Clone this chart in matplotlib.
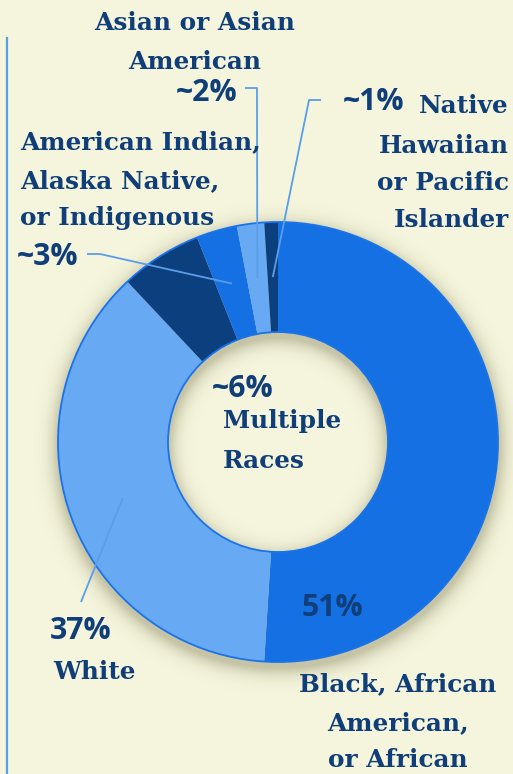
import numpy as np
import matplotlib
matplotlib.use('Agg')
import matplotlib.pyplot as plt
from matplotlib.patches import Circle

# data
groups = ['Black, African American, or African', 'White', 'Multiple Races',
          'American Indian, Alaska Native, or Indigenous',
          'Asian or Asian American', 'Native Hawaiian or Pacific Islander']
shares = [51, 37, 6, 3, 2, 1]
pct_labels = ['51%', '37%', '~6%', '~3%', '~2%', '~1%']
slice_colors = ['#1570e3', '#67aaf3', '#0c3f7e', '#1570e3', '#67aaf3', '#0c3f7e']

BG = '#f5f5dd'
NAVY = '#0f3e78'
LINE = '#5a9ee9'
SERIF = 'DejaVu Serif'
SANS = 'Open Sans'

W, H = 513, 774
CX, CY = 278, 442        # donut centre (pixels from top)
R, RING = 220, 110


def Y(y):
    return H - y


fig = plt.figure(figsize=(W / 100, H / 100), dpi=100, facecolor=BG)
ax = fig.add_axes([0, 0, 1, 1])
ax.set_facecolor(BG)

# soft drop shadow under the ring
yy, xx = np.mgrid[0:H, 0:W]
d = np.hypot(xx - CX, yy - (CY + 5))
out = np.maximum(np.maximum(d - R, (R - RING) - d), 0)
alpha = 0.30 * np.exp(-(out / 9.0) ** 1.3)
shadow = np.zeros((H, W, 4))
shadow[..., 0] = 0.33
shadow[..., 1] = 0.32
shadow[..., 2] = 0.15
shadow[..., 3] = alpha
ax.imshow(shadow, extent=(0, W, 0, H), origin='upper', zorder=1, interpolation='bilinear')

wedges, _ = ax.pie(shares, colors=slice_colors, startangle=90, counterclock=False,
                   radius=R, center=(CX, Y(CY)),
                   wedgeprops=dict(width=RING, linewidth=0))
for w in wedges:
    w.set_zorder(2)
ax.add_patch(Circle((CX, Y(CY)), R, fill=False, ec='#1a73e8', lw=1.3, zorder=3))
ax.add_patch(Circle((CX, Y(CY)), R - RING, fill=False, ec='#1a73e8', lw=1.3, zorder=3))


def mid_point(i):
    w = wedges[i]
    a = np.deg2rad((w.theta1 + w.theta2) / 2)
    r = R - RING / 2
    return CX + r * np.cos(a), Y(CY) + r * np.sin(a)


# leader lines: label-side points, then the middle of the slice
leaders = {
    1: [(81, 602)],
    3: [(87, 254), (100, 254)],
    4: [(245, 88), (257, 88)],
    5: [(321, 100), (309, 100)],
}
for i, pts in leaders.items():
    xs = [p[0] for p in pts]
    ys = [Y(p[1]) for p in pts]
    mx, my = mid_point(i)
    ax.plot(xs + [mx], ys + [my], color=LINE, lw=1.3, zorder=4, solid_capstyle='butt')

# left rule
ax.plot([7, 7], [Y(38), Y(774)], color=LINE, lw=1.6, zorder=4)


def lab(x, y, s, ha='left', size=17.8):
    ax.text(x, Y(y), s, ha=ha, va='center', fontsize=size, fontweight='bold',
            family=SERIF, color=NAVY, zorder=5)


def pct(x, y, s, ha='left', size=21.8):
    ax.text(x, Y(y), s, ha=ha, va='center', fontsize=size, fontweight='bold',
            family=SANS, color=NAVY, zorder=5)


# Asian
lab(195, 23, 'Asian or Asian', ha='center')
lab(195, 62, 'American', ha='center')
pct(237, 93, pct_labels[4], ha='right')
# American Indian
lab(20, 142, 'American Indian,')
lab(20, 181, 'Alaska Native,')
lab(20, 218, 'or Indigenous')
pct(17, 257, pct_labels[3])
# Native Hawaiian
pct(343, 102, pct_labels[5])
lab(509, 106, 'Native', ha='right')
lab(509, 146, 'Hawaiian', ha='right')
lab(509, 183, 'or Pacific', ha='right')
lab(509, 220, 'Islander', ha='right')
# Multiple
pct(212, 389, pct_labels[2])
lab(223, 421, 'Multiple')
lab(223, 461, 'Races')
# Black
pct(302, 608, pct_labels[0])
lab(398, 684, 'Black, African', ha='center')
lab(398, 723, 'American,', ha='center')
lab(398, 760, 'or African', ha='center')
# White
pct(50, 631, pct_labels[1])
lab(53, 672, 'White')

ax.set_xlim(0, W)
ax.set_ylim(0, H)
ax.set_aspect('auto')
ax.axis('off')

fig.savefig('out.png', dpi=100, facecolor=BG)
